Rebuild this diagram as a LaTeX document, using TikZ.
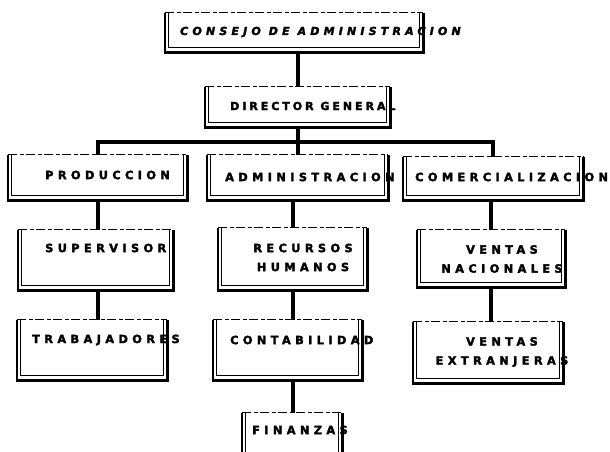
\documentclass[tikz,border=0pt]{standalone}
\usepackage{fontspec}
\newfontfamily\labfont{DejaVu Sans}[BoldFeatures={FakeBold=2.5},BoldItalicFeatures={FakeBold=2.5}]
\begin{document}
\begin{tikzpicture}[x=1pt,y=-1pt,
  orgbox/.style={rectangle, draw=none, inner sep=0pt},
  conn/.style={line width=4pt, black},
  outerframe/.style={line width=2.6pt, black, line join=miter},
  innerframe/.style={line width=0.8pt, black},
  topframe/.style={line width=1pt, black, dash pattern=on 9pt off 3pt on 4pt off 2pt},
  lbl/.style={inner sep=0pt, anchor=west, font=\labfont\bfseries\fontsize{11.3}{19}\selectfont\addfontfeature{LetterSpace=39}},
  lblc/.style={inner sep=0pt, anchor=center, align=center, font=\labfont\bfseries\fontsize{11.3}{19}\selectfont\addfontfeature{LetterSpace=39}}
]
\useasboundingbox (0,0) rectangle (610,451);
\clip (0,0) rectangle (610,451);
\fill[white] (0,0) rectangle (610,451);

% boxes
\node[orgbox, minimum width=258pt, minimum height=39pt] (consejo) at (294,32.5) {};
\node[orgbox, minimum width=185pt, minimum height=40pt] (director) at (297.5,107) {};
\node[orgbox, minimum width=179pt, minimum height=45pt] (produccion) at (97.5,177.5) {};
\node[orgbox, minimum width=181pt, minimum height=45pt] (administracion) at (297.5,177.5) {};
\node[orgbox, minimum width=180pt, minimum height=43pt] (comercializacion) at (493,178.5) {};
\node[orgbox, minimum width=155pt, minimum height=60pt] (supervisor) at (95.5,260) {};
\node[orgbox, minimum width=149pt, minimum height=62pt] (recursos) at (292.5,259) {};
\node[orgbox, minimum width=148pt, minimum height=57pt] (ventasnac) at (491,258.5) {};
\node[orgbox, minimum width=150pt, minimum height=60pt] (trabajadores) at (92,350) {};
\node[orgbox, minimum width=149pt, minimum height=60pt] (contabilidad) at (287.5,350) {};
\node[orgbox, minimum width=150pt, minimum height=61pt] (ventasext) at (488,352.5) {};
\node[orgbox, minimum width=100pt, minimum height=46pt] (finanzas) at (292,436) {};

% frames
\foreach \n in {consejo,director,produccion,administracion,comercializacion,supervisor,recursos,ventasnac,trabajadores,contabilidad,ventasext,finanzas}{
  \draw[outerframe] (\n.north west) -- (\n.south west) -- (\n.south east) -- (\n.north east);
  \draw[topframe] (\n.north west) -- (\n.north east);
  \draw[innerframe] ([xshift=4pt]\n.north west) -- ([shift={(4pt,5pt)}]\n.south west) -- ([shift={(-4pt,5pt)}]\n.south east) -- ([xshift=-4pt]\n.north east);
}

% connectors
\coordinate (bar) at (297,142);
\draw[conn] (director.north) -- (director.north |- consejo.south);
\draw[conn] (director.south) -- (director.south |- administracion.north);
\draw[conn] (produccion.north) |- (bar) -| (comercializacion.north);
\draw[conn] (produccion.south) -- (produccion.south |- supervisor.north);
\draw[conn] (administracion.south -| recursos) -- (recursos.north);
\draw[conn] (comercializacion.south -| ventasnac) -- (ventasnac.north);
\draw[conn] (supervisor.south -| produccion) -- (produccion |- trabajadores.north);
\draw[conn] (recursos.south) -- (recursos.south |- contabilidad.north);
\draw[conn] (ventasnac.south) -- (ventasnac.south |- ventasext.north);
\draw[conn] (contabilidad.south -| recursos) -- (recursos |- finanzas.north);

% labels
\node[lbl, font=\labfont\bfseries\itshape\fontsize{11}{13}\selectfont\addfontfeature{LetterSpace=38}] (tconsejo) at (180,32) {CONSEJO DE ADMINISTRACION};
\node[lbl, font=\labfont\bfseries\fontsize{11}{13}\selectfont\addfontfeature{LetterSpace=27}] (tdirector) at (230,106) {DIRECTOR GENERAL};
\node[lbl] (tproduccion) at (45,175) {PRODUCCION};
\node[lbl] (tadministracion) at (225,177) {ADMINISTRACION};
\node[lbl] (tcomercializacion) at (415,177) {COMERCIALIZACION};
\node[lbl] (tsupervisor) at (45,248) {SUPERVISOR};
\node[lblc] (trecursos) at (303,257.5) {RECURSOS\\HUMANOS};
\node[lblc] (tventasnac) at (502,259) {VENTAS\\NACIONALES};
\node[lbl] (ttrabajadores) at (32,340) {TRABAJADORES};
\node[lbl] (tcontabilidad) at (230,340) {CONTABILIDAD};
\node[lblc] (tventasext) at (502,352) {VENTAS\\EXTRANJERAS};
\node[lbl] (tfinanzas) at (252,430) {FINANZAS};
\end{tikzpicture}
\end{document}
